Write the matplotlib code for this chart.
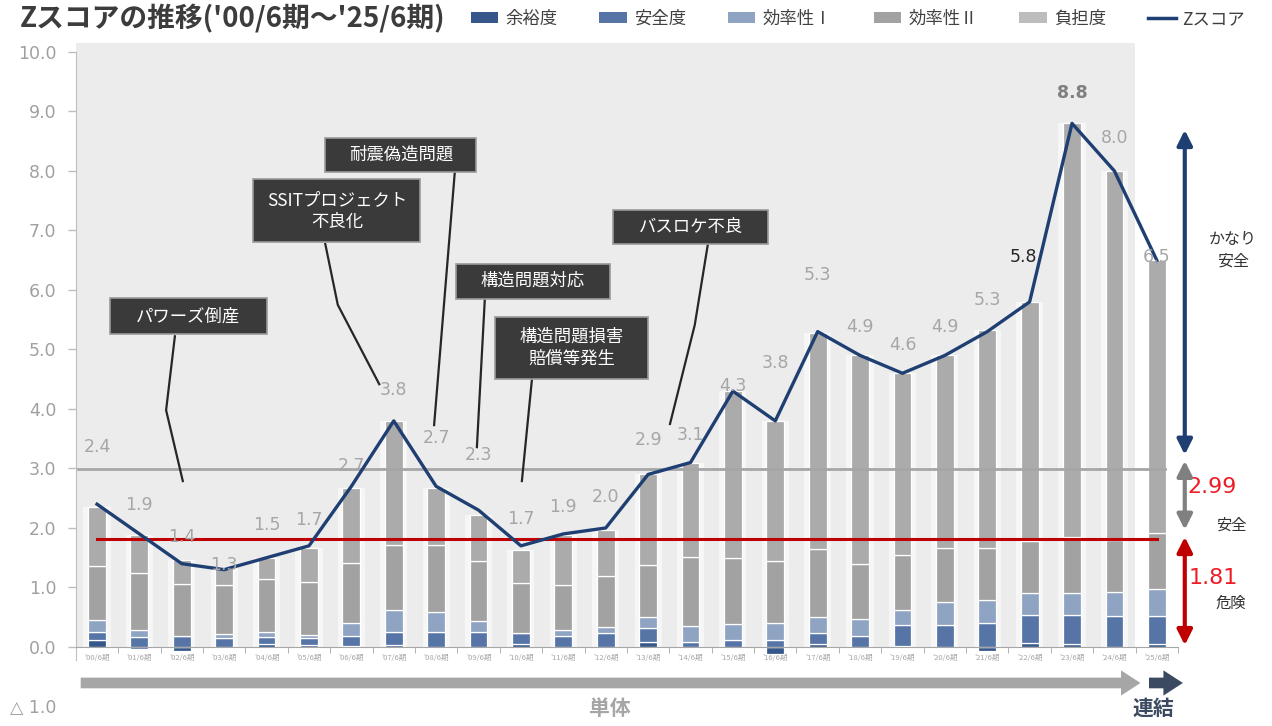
import matplotlib

matplotlib.use("Agg")

import matplotlib.pyplot as plt
import numpy as np
from matplotlib.lines import Line2D
from matplotlib.patches import Patch, Rectangle

plt.rcParams["font.family"] = ["Noto Sans CJK JP", "DejaVu Sans"]

periods = ["'00/6期", "'01/6期", "'02/6期", "'03/6期", "'04/6期", "'05/6期", "'06/6期",
           "'07/6期", "'08/6期", "'09/6期", "'10/6期", "'11/6期", "'12/6期", "'13/6期",
           "'14/6期", "'15/6期", "'16/6期", "'17/6期", "'18/6期", "'19/6期", "'20/6期",
           "'21/6期", "'22/6期", "'23/6期", "'24/6期", "'25/6期"]
z_score = [2.4, 1.9, 1.4, 1.3, 1.5, 1.7, 2.7, 3.8, 2.7, 2.3, 1.7, 1.9, 2.0, 2.9,
           3.1, 4.3, 3.8, 5.3, 4.9, 4.6, 4.9, 5.3, 5.8, 8.8, 8.0, 6.5]

# Z score components
yoyu = [0.12, -0.03, -0.07, 0.00, 0.05, 0.04, 0.02, 0.03, 0.00, 0.00, 0.05, 0.00, 0.00,
        0.08, 0.00, 0.00, -0.12, 0.05, 0.00, 0.02, 0.00, -0.06, 0.07, 0.05, 0.00, 0.05]
anzen = [0.13, 0.17, 0.19, 0.15, 0.12, 0.11, 0.16, 0.22, 0.26, 0.25, 0.19, 0.19, 0.24,
         0.24, 0.09, 0.11, 0.12, 0.18, 0.19, 0.35, 0.37, 0.41, 0.47, 0.48, 0.52, 0.47]
koritsu1 = [0.20, 0.12, 0.00, 0.07, 0.09, 0.05, 0.22, 0.37, 0.32, 0.18, 0.00, 0.09, 0.10,
            0.18, 0.26, 0.28, 0.28, 0.28, 0.28, 0.25, 0.39, 0.38, 0.36, 0.38, 0.40, 0.46]
koritsu2 = [0.91, 0.95, 0.87, 0.82, 0.88, 0.89, 1.01, 1.09, 1.13, 1.02, 0.83, 0.76, 0.86,
            0.88, 1.16, 1.11, 1.05, 1.13, 0.93, 0.93, 0.90, 0.88, 0.88, 0.94, 0.88, 0.93]
futan = [1.00, 0.65, 0.40, 0.30, 0.35, 0.57, 1.27, 2.09, 0.97, 0.77, 0.56, 0.85, 0.76,
         1.52, 1.59, 2.80, 2.35, 3.64, 3.50, 3.05, 3.24, 3.65, 4.02, 6.95, 6.20, 4.59]

series_names = ["余裕度", "安全度", "効率性Ⅰ", "効率性Ⅱ", "負担度"]
series_colors = ["#36578a", "#5675a6", "#8fa3c2", "#a2a2a2", "#ababab"]

threshold_safe = 2.99
threshold_danger = 1.81

events = ["パワーズ倒産", "SSITプロジェクト\n不良化", "耐震偽造問題", "構造問題対応",
          "構造問題損害\n賠償等発生", "バスロケ不良"]

# label placement above each Z point
label_dy = [0.96, 0.49, 0.45, 0.08, 0.55, 0.43, 0.34, 0.52, 0.81, 0.93, 0.45, 0.45, 0.52,
            0.58, 0.46, 0.08, 0.97, 0.95, 0.48, 0.48, 0.48, 0.53, 0.75, 0.51, 0.55, 0.05]

fig = plt.figure(figsize=(12.72, 7.26), dpi=100)
ax = fig.add_axes([0.0596, 0.0269, 0.8665, 0.9015])
ax.set_xlim(-0.5, 25.5)
ax.set_ylim(-1, 10)

x = np.arange(len(periods))

# shaded panel for the non-consolidated period
ax.add_patch(Rectangle((-0.5, 0), 24.98, 10.15, facecolor="#ececec",
                       edgecolor="none", zorder=0, clip_on=False))

components = [yoyu, anzen, koritsu1, koritsu2, futan]
pos_base = np.zeros(len(x))
neg_base = np.zeros(len(x))
bar_w = 0.42
totals_pos = np.sum([np.clip(c, 0, None) for c in components], axis=0)
ax.bar(x, totals_pos, width=0.64, color="white", alpha=0.55, zorder=1, linewidth=0)
for vals, name, col in zip(components, series_names, series_colors):
    v = np.array(vals)
    bottom = np.where(v >= 0, pos_base, neg_base)
    ax.bar(x, v, width=bar_w, bottom=bottom, color=col, edgecolor="white",
           linewidth=0.9, zorder=2, label=name)
    pos_base += np.clip(v, 0, None)
    neg_base += np.clip(v, None, 0)

# reference lines
ax.plot([-0.45, 25.2], [threshold_safe] * 2, color="#a6a6a6", lw=2, zorder=3)
ax.plot([x[0], x[-1]], [threshold_danger] * 2, color="#c00000", lw=2.2, zorder=4)

# Z score line
ax.plot(x, z_score, color="#1f3f73", lw=2.4, zorder=5)
for i, (xi, zi) in enumerate(zip(x, z_score)):
    color, weight = "#a6a6a6", "normal"
    dx = 0
    if i == 22:
        color, dx = "#262626", -0.15
    if i == 23:
        color, weight = "#808080", "bold"
    ax.text(xi + dx, zi + label_dy[i], f"{zi:.1f}", ha="center", va="center",
            fontsize=12.5, color=color, fontweight=weight, family="DejaVu Sans", zorder=6)

# event call-outs: (centre x, centre y, width, height), leader path
boxes = [(2.15, 5.56, 3.70, 0.61), (5.66, 7.33, 3.94, 1.06), (7.17, 8.27, 3.56, 0.57),
         (10.28, 6.15, 3.63, 0.59), (11.20, 5.03, 3.61, 1.04), (14.01, 7.06, 3.66, 0.57)]
leaders = [[(1.84, 5.24), (1.63, 3.98), (2.03, 2.77)],
           [(5.38, 6.79), (5.68, 5.75), (6.67, 4.40)],
           [(8.44, 7.98), (7.95, 3.71)],
           [(9.15, 5.87), (8.96, 3.34)],
           [(10.26, 4.50), (10.02, 2.77)],
           [(14.41, 6.77), (14.10, 5.41), (13.51, 3.73)]]
for text, (cx, cy, w, h), path in zip(events, boxes, leaders):
    px, py = zip(*path)
    ax.plot(px, py, color="#262626", lw=1.6, zorder=7, solid_capstyle="butt")
    ax.add_patch(Rectangle((cx - w / 2, cy - h / 2), w, h,
                           facecolor="#3a3a3a", edgecolor="#9a9a9a", lw=1.2, zorder=8))
    ax.text(cx, cy, text, ha="center", va="center", color="white", fontsize=12.5,
            linespacing=1.25, zorder=9)

# zone arrows on the right
ax_x = 25.66
arrow_kw = dict(arrowstyle="<|-|>,head_width=0.45,head_length=0.9", lw=3, shrinkA=0, shrinkB=0)
ax.annotate("", xy=(ax_x, 8.69), xytext=(ax_x, 3.23), annotation_clip=False,
            arrowprops=dict(color="#1f3f73", **arrow_kw), zorder=6)
ax.annotate("", xy=(ax_x, 3.13), xytext=(ax_x, 1.97), annotation_clip=False,
            arrowprops=dict(color="#808080", **arrow_kw), zorder=6)
ax.annotate("", xy=(ax_x, 1.85), xytext=(ax_x, 0.03), annotation_clip=False,
            arrowprops=dict(color="#c00000", **arrow_kw), zorder=6)
ax.text(26.8, 6.67, "かなり\n安全", ha="center", va="center", fontsize=11.5, color="#333333",
        linespacing=1.3)
ax.text(26.3, 2.69, f"{threshold_safe:.2f}", ha="center", va="center", fontsize=16,
        color="#ee1c25", family="DejaVu Sans")
ax.text(26.75, 2.05, "安全", ha="center", va="center", fontsize=11, color="#333333")
ax.text(26.32, 1.16, f"{threshold_danger:.2f}", ha="center", va="center", fontsize=16,
        color="#ee1c25", family="DejaVu Sans")
ax.text(26.75, 0.74, "危険", ha="center", va="center", fontsize=11, color="#333333")

# period arrows under the axis
ax.annotate("", xy=(24.68, -0.605), xytext=(-0.45, -0.605), annotation_clip=False,
            arrowprops=dict(arrowstyle="simple,head_width=1.3,head_length=1.0,tail_width=0.55",
                            mutation_scale=14, color="#a6a6a6", lw=0))
ax.annotate("", xy=(25.68, -0.605), xytext=(24.75, -0.605), annotation_clip=False,
            arrowprops=dict(arrowstyle="simple,head_width=1.3,head_length=1.0,tail_width=0.55",
                            mutation_scale=14, color="#3b4a60", lw=0))
ax.text(12.1, -1.03, "単体", ha="center", va="center", fontsize=15, fontweight="bold",
        color="#a6a6a6")
ax.text(24.92, -1.03, "連結", ha="center", va="center", fontsize=15, fontweight="bold",
        color="#3b4a60")

# axes styling
for side in ["top", "right"]:
    ax.spines[side].set_visible(False)
ax.spines["bottom"].set_position(("data", 0))
ax.spines["bottom"].set_color("#a6a6a6")
ax.spines["left"].set_color("#bfbfbf")
ax.spines["left"].set_bounds(-0.22, 10)

yt = np.arange(-1, 11)
ax.set_yticks(yt)
ax.set_yticklabels(["△ 1.0"] + [f"{v:.1f}" for v in yt[1:]], family="DejaVu Sans")
ax.tick_params(axis="y", length=6, width=1, color="#bfbfbf", labelcolor="#a0a0a0",
               labelsize=12.5, pad=8)
ax.yaxis.get_major_ticks()[0].tick1line.set_visible(False)

ax.set_xticks(x)
ax.set_xticklabels(periods)
ax.set_xticks(np.arange(-0.5, 25.6, 1), minor=True)
ax.tick_params(axis="x", which="major", length=0, labelsize=5.5, labelcolor="#a6a6a6", pad=5)
ax.tick_params(axis="x", which="minor", length=4, color="#a6a6a6")

fig.text(20 / 1272, 1 - 19 / 726, "Zスコアの推移('00/6期～'25/6期)", ha="left", va="center",
         fontsize=20, fontweight="bold", color="#3c3c3c")

handles = [Patch(facecolor=c, edgecolor="none") for c in series_colors]
handles[-1] = Patch(facecolor="#bdbdbd", edgecolor="none")
handles.append(Line2D([], [], color="#1f3f73", lw=2.5))
fig.legend(handles, series_names + ["Zスコア"], loc="center left",
           bbox_to_anchor=(455 / 1272, 1 - 19 / 726), ncol=6, frameon=False,
           fontsize=12.5, handlelength=1.6, handleheight=0.6, handletextpad=0.4,
           columnspacing=2.4, labelcolor="#404040")

fig.savefig("out.png", dpi=100)
plt.close(fig)
